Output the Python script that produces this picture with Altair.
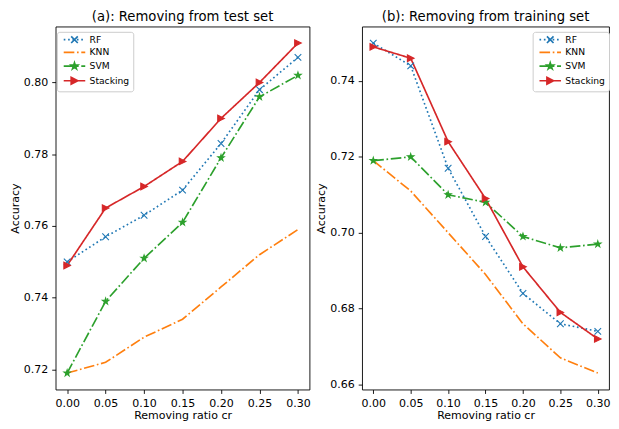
import math
import altair as alt
import pandas as pd

# ---------------- data ----------------
ratios = [0.00, 0.05, 0.10, 0.15, 0.20, 0.25, 0.30]
series_names = ["RF", "KNN", "SVM", "Stacking"]

test_rf = [0.750, 0.757, 0.763, 0.770, 0.783, 0.798, 0.807]
test_knn = [0.719, 0.722, 0.729, 0.734, 0.743, 0.752, 0.759]
test_svm = [0.719, 0.739, 0.751, 0.761, 0.779, 0.796, 0.802]
test_stacking = [0.749, 0.765, 0.771, 0.778, 0.790, 0.800, 0.811]

train_rf = [0.750, 0.744, 0.717, 0.699, 0.684, 0.676, 0.674]
train_knn = [0.719, 0.711, 0.700, 0.689, 0.676, 0.667, 0.663]
train_svm = [0.719, 0.720, 0.710, 0.708, 0.699, 0.696, 0.697]
train_stacking = [0.749, 0.746, 0.724, 0.709, 0.691, 0.679, 0.672]

x_ticks = [0.00, 0.05, 0.10, 0.15, 0.20, 0.25, 0.30]
test_y_ticks = [0.72, 0.74, 0.76, 0.78, 0.80]
train_y_ticks = [0.66, 0.68, 0.70, 0.72, 0.74]

title_a = "(a): Removing from test set"
title_b = "(b): Removing from training set"
x_title = "Removing ratio cr"
y_title = "Accuracy"


def make_df(values_by_series):
    rows = []
    for name, vals in zip(series_names, values_by_series):
        for r, v in zip(ratios, vals):
            rows.append({"ratio": r, "value": v, "series": name})
    return pd.DataFrame(rows)


df_test = make_df([test_rf, test_knn, test_svm, test_stacking])
df_train = make_df([train_rf, train_knn, train_svm, train_stacking])

# ---------------- styles ----------------
colors = ["#1f77b4", "#ff7f0e", "#2ca02c", "#d62728"]
LW = 1.67
dot_pat = [1.67, 2.75]
dashdot_pat = [10.7, 2.67, 1.67, 2.67]
dashes = [dot_pat, dashdot_pat, dashdot_pat, [1, 0]]

S = 3.5            # px per symbol unit (size 49)
MR = 0.95          # marker half-size in units


def x_marker(cx=0.0):
    return (f"M{cx-MR:.3f},{-MR:.3f}L{cx+MR:.3f},{MR:.3f}"
            f"M{cx-MR:.3f},{MR:.3f}L{cx+MR:.3f},{-MR:.3f}")


def tri_right(cx=0.0):
    return (f"M{cx+MR:.3f},0L{cx-MR:.3f},{-MR:.3f}L{cx-MR:.3f},{MR:.3f}Z")


def star(cx=0.0):
    pts = []
    for k in range(10):
        ang = math.radians(-90 + 36 * k)
        r = MR if k % 2 == 0 else MR * 0.381966
        pts.append((cx + r * math.cos(ang), r * math.sin(ang)))
    d = "M" + "L".join(f"{x:.3f},{y:.3f}" for x, y in pts) + "Z"
    return d


def segments(x0, x1, pattern_px):
    if pattern_px is None:
        return f"M{x0:.3f},0L{x1:.3f},0"
    pat = [p / S for p in pattern_px]
    d = ""
    x = x0
    i = 0
    while x < x1:
        seg = pat[i % len(pat)]
        if i % 2 == 0:
            d += f"M{x:.3f},0L{min(x+seg, x1):.3f},0"
        x += seg
        i += 1
    return d


H0, H1 = -0.3, 5.9
HC = (H0 + H1) / 2
legend_paths = [
    segments(H0, H1, dot_pat) + x_marker(HC),
    segments(H0, H1, dashdot_pat),
    segments(H0, H1, dashdot_pat) + star(HC),
    segments(H0, H1, None) + tri_right(HC),
]
marker_domain = ["RF", "SVM", "Stacking"]
marker_paths = [x_marker(), star(), tri_right()]
marker_colors = [colors[0], colors[2], colors[3]]

W_LEFT, W_RIGHT, H = 256, 249, 366


def panel(df, title, ydomain, yticks, width, legend_x):
    base = alt.Chart(df)
    x = alt.X("ratio:Q",
              scale=alt.Scale(domain=[-0.015, 0.315], nice=False, zero=False),
              axis=alt.Axis(values=x_ticks, format=".2f", title=x_title))
    y = alt.Y("value:Q",
              scale=alt.Scale(domain=ydomain, nice=False, zero=False),
              axis=alt.Axis(values=yticks, format=".2f", title=y_title))
    lines = base.mark_line(strokeWidth=LW, strokeCap="butt").encode(
        x=x, y=y,
        stroke=alt.Stroke("series:N", scale=alt.Scale(domain=series_names, range=colors), legend=None),
        strokeDash=alt.StrokeDash("series:N", scale=alt.Scale(domain=series_names, range=dashes), legend=None),
    )
    points = base.transform_filter("datum.series != 'KNN'").mark_point(
        filled=True, size=49, strokeWidth=1.1, opacity=1).encode(
        x=x, y=y,
        shape=alt.Shape("series:N", scale=alt.Scale(domain=marker_domain, range=marker_paths), legend=None),
        fill=alt.Fill("series:N", scale=alt.Scale(domain=marker_domain, range=marker_colors), legend=None),
        stroke=alt.Stroke("series:N", scale=alt.Scale(domain=marker_domain, range=marker_colors), legend=None),
    )
    leg = alt.Legend(
        title=None, orient="none", legendX=legend_x, legendY=5.3,
        fillColor="white", strokeColor="#cccccc", cornerRadius=2.5,
        padding=3.3, rowPadding=0.8, labelOffset=20.4,
        labelFont="DejaVu Sans", labelFontSize=9.26, labelColor="#000",
        symbolSize=49, symbolStrokeWidth=LW, symbolOpacity=1,
    )
    legend_layer = base.transform_filter("false").mark_point(filled=True).encode(
        shape=alt.Shape("series:N", scale=alt.Scale(domain=series_names, range=legend_paths), legend=leg),
        fill=alt.Fill("series:N", scale=alt.Scale(domain=series_names, range=colors), legend=leg),
        stroke=alt.Stroke("series:N", scale=alt.Scale(domain=series_names, range=colors), legend=leg),
    )
    return alt.layer(lines, points, legend_layer).resolve_scale(
        shape="independent", fill="independent", stroke="independent", strokeDash="independent"
    ).properties(width=width, height=H, title=alt.TitleParams(title))


left = panel(df_test, title_a, [0.7144, 0.8156], test_y_ticks, W_LEFT, 1.3)
right = panel(df_train, title_b, [0.65865, 0.75435], train_y_ticks, W_RIGHT, 172)

chart = alt.hconcat(left, right, spacing=3).properties(
    padding={"left": 0, "right": 0, "top": 0, "bottom": 0}
).configure_view(
    stroke="#000", strokeWidth=0.9
).configure_axis(
    grid=False, domain=False, tickColor="#000", tickSize=3.9, tickWidth=0.9,
    labelFont="DejaVu Sans", labelFontSize=11.1, labelColor="#000", labelPadding=3.9,
    labelFlush=False,
    titleFont="DejaVu Sans", titleFontSize=11.1, titleFontWeight="normal", titleColor="#000",
).configure_axisX(
    titlePadding=1.5
).configure_axisY(
    titlePadding=3.4
).configure_title(
    font="DejaVu Sans", fontSize=13.3, fontWeight="normal", color="#000",
    anchor="middle", offset=3
)

chart.save("out.html", embed_options={"renderer": "svg", "actions": False})
